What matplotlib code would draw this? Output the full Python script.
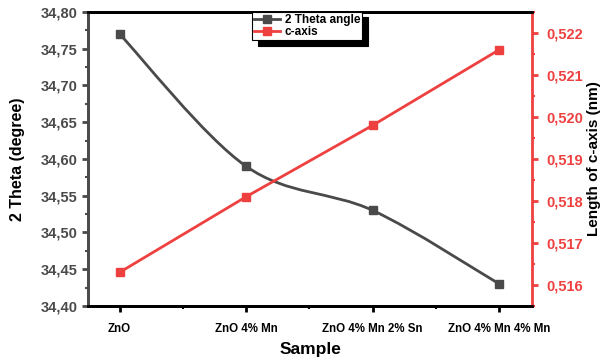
import numpy as np
import matplotlib.pyplot as plt
from matplotlib.path import Path
from matplotlib.patches import PathPatch
from matplotlib.ticker import MultipleLocator, FuncFormatter

samples = ['ZnO', 'ZnO 4% Mn', 'ZnO 4% Mn 2% Sn', 'ZnO 4% Mn 4% Mn']
theta = [34.77, 34.59, 34.53, 34.43]
c_axis = [0.5163, 0.5181, 0.5198, 0.5216]

gray = '#4a4a4a'
red = '#ef4040'

plt.rcParams['font.family'] = ['Liberation Sans', 'DejaVu Sans']
plt.rcParams['font.weight'] = 'bold'

fig = plt.figure(figsize=(6.02, 3.6), dpi=100)
ax = fig.add_axes([0.146, 0.15, 0.738, 0.817])
ax2 = ax.twinx()

x = np.arange(len(samples))

# smooth curve through the theta points (catmull-rom -> bezier)
pts = np.column_stack([x, theta]).astype(float)
ext = np.vstack([pts[0], pts, pts[-1]])
verts = [tuple(pts[0])]
codes = [Path.MOVETO]
for i in range(len(pts) - 1):
    p0, p1, p2, p3 = ext[i], ext[i + 1], ext[i + 2], ext[i + 3]
    verts += [tuple(p1 + (p2 - p0) / 6), tuple(p2 - (p3 - p1) / 6), tuple(p2)]
    codes += [Path.CURVE4] * 3
ax.add_patch(PathPatch(Path(verts, codes), fill=False, edgecolor=gray, lw=2))
l1, = ax.plot(x, theta, ls='none', marker='s', ms=5.5, color=gray)
l2, = ax2.plot(x, c_axis, '-', marker='s', ms=5.5, color=red, lw=2)

ax.set_xlim(-0.25, 3.26)
ax.set_ylim(34.40, 34.80)
ax2.set_ylim(0.5155, 0.5225)

ax.set_xticks(x)
ax.set_xticklabels(samples, fontsize=8.3, fontweight='bold')
ax.xaxis.set_minor_locator(MultipleLocator(0.5))
ax.yaxis.set_major_locator(MultipleLocator(0.05))
ax.yaxis.set_minor_locator(MultipleLocator(0.025))
ax.yaxis.set_major_formatter(FuncFormatter(lambda v, p: f'{v:.2f}'.replace('.', ',')))
ax2.yaxis.set_major_locator(MultipleLocator(0.001))
ax2.yaxis.set_minor_locator(MultipleLocator(0.0005))
ax2.yaxis.set_major_formatter(FuncFormatter(lambda v, p: f'{v:.3f}'.replace('.', ',')))

ax.tick_params(axis='x', which='major', length=4, width=2, pad=8, colors='black')
ax.tick_params(axis='x', which='minor', length=2, width=1.5)
ax.tick_params(axis='y', which='major', length=4, width=2, colors=gray, labelsize=10.5)
ax.tick_params(axis='y', which='minor', length=2, width=1.5, colors=gray)
ax2.tick_params(axis='y', which='major', length=4, width=2, colors=red, labelsize=10.5, pad=6)
ax2.tick_params(axis='y', which='minor', length=2, width=1.5, colors=red)
for lab in ax.get_yticklabels() + ax2.get_yticklabels():
    lab.set_fontweight('bold')

for a in (ax, ax2):
    for s in a.spines.values():
        s.set_linewidth(2)
ax.spines['left'].set_color(gray)
ax2.spines['left'].set_color(gray)
ax2.spines['right'].set_color(red)
ax.spines['right'].set_visible(False)

ax.set_xlabel('Sample', fontsize=12.5, fontweight='bold', labelpad=5)
ax.set_ylabel('2 Theta (degree)', fontsize=11.5, fontweight='bold', labelpad=11)
ax2.set_ylabel('Length of c-axis (nm)', fontsize=11, fontweight='bold', labelpad=3)

leg = ax2.legend([l1, l2], ['2 Theta angle', 'c-axis'], loc='upper left',
                 bbox_to_anchor=(0.37, 1.0), prop={'weight': 'bold', 'size': 8.5},
                 frameon=True, fancybox=False, shadow={'color': 'black', 'alpha': 1, 'ox': 4, 'oy': -4},
                 handlelength=2.2, borderpad=0.15, labelspacing=0.05, handletextpad=0.4,
                 borderaxespad=0)
leg.get_frame().set_edgecolor('black')
leg.get_frame().set_linewidth(0.8)
leg.legend_handles[0].set_linestyle('-')
leg.legend_handles[0].set_linewidth(2)

fig.savefig('out.png', dpi=100)
